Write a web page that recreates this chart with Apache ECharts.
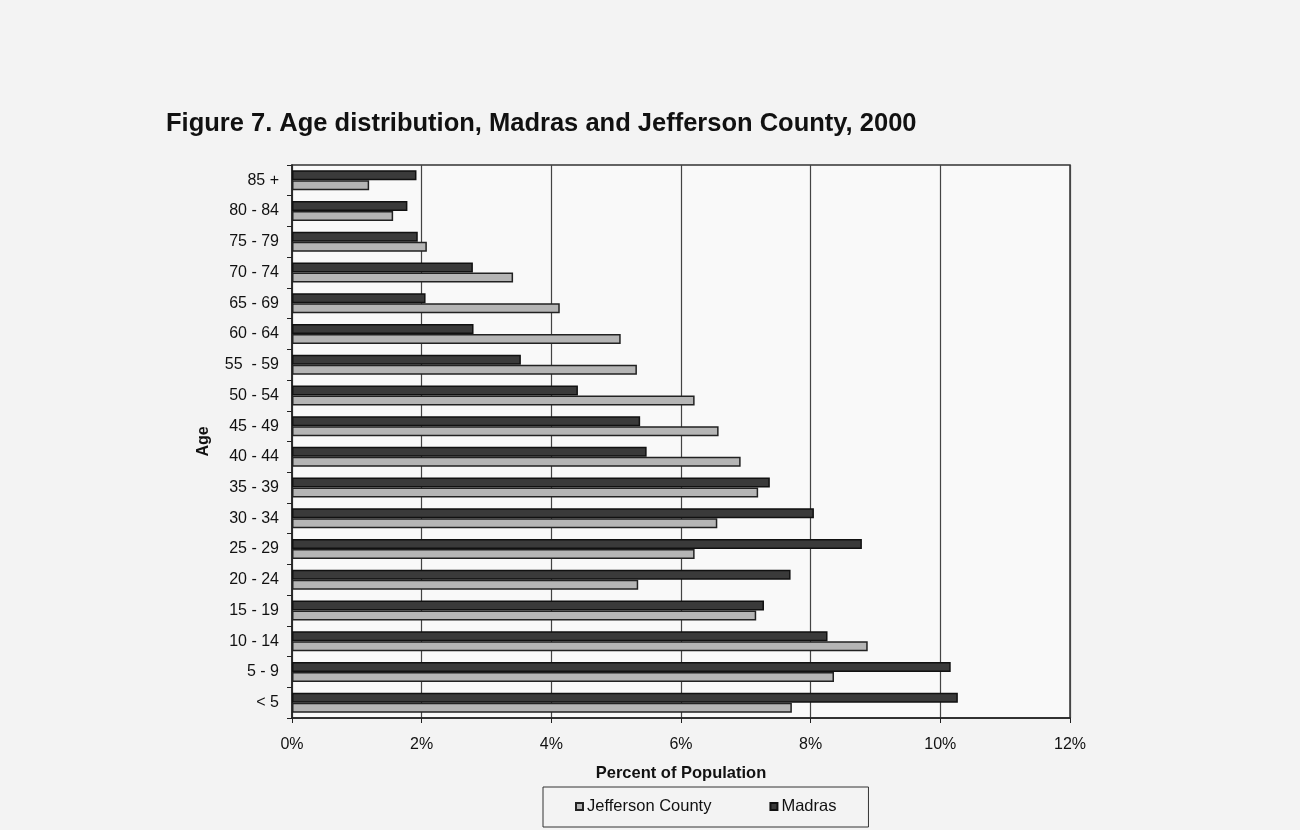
<!DOCTYPE html>
<html>
<head>
<meta charset="utf-8">
<script src="https://cdn.jsdelivr.net/npm/echarts@6/dist/echarts.min.js"></script>
<style>
html,body{margin:0;padding:0;background:#f3f3f3;}
#chart{width:1300px;height:830px;}
</style>
</head>
<body>
<div id="chart"></div>
<script>
const categories = ['< 5','5 - 9','10 - 14','15 - 19','20 - 24','25 - 29','30 - 34','35 - 39','40 - 44','45 - 49','50 - 54','55  - 59','60 - 64','65 - 69','70 - 74','75 - 79','80 - 84','85 +'];
const jefferson = [7.71, 8.36, 8.88, 7.16, 5.34, 6.21, 6.56, 7.19, 6.92, 6.58, 6.21, 5.32, 5.07, 4.13, 3.41, 2.08, 1.56, 1.19];
const madras = [10.27, 10.16, 8.26, 7.28, 7.69, 8.79, 8.05, 7.37, 5.47, 5.37, 4.41, 3.53, 2.80, 2.06, 2.79, 1.94, 1.78, 1.92];
const xTicks = [0, 2, 4, 6, 8, 10, 12];

const FONT = '"Liberation Sans", Arial, sans-serif';
const chart = echarts.init(document.getElementById('chart'));
chart.setOption({
  backgroundColor: '#f3f3f3',
  animation: false,
  title: {
    text: 'Figure 7. Age distribution, Madras and Jefferson County, 2000',
    left: 166, top: 111, padding: 0,
    textStyle: {fontFamily: FONT, fontSize: 25.5, fontWeight: 'bold', color: '#111'}
  },
  legend: {
    data: ['Jefferson County', 'Madras'],
    left: 543, top: 787,
    width: 340,
    padding: [11, 32, 12, 32],
    itemGap: 58,
    itemWidth: 7, itemHeight: 7,
    icon: 'rect',
    borderColor: '#333', borderWidth: 1,
    textStyle: {fontFamily: FONT, fontSize: 16.5, color: '#111', padding: [0, 0, 0, -1]}
  },
  grid: {
    left: 292, right: 230, top: 165, bottom: 112,
    show: true, borderColor: '#333', borderWidth: 1.5,
    backgroundColor: 'rgba(255,255,255,0.5)',
    containLabel: false
  },
  xAxis: {
    type: 'value', min: xTicks[0], max: xTicks[xTicks.length - 1], interval: 2,
    name: 'Percent of Population', nameLocation: 'middle', nameGap: 47,
    nameTextStyle: {fontFamily: FONT, fontSize: 16.5, fontWeight: 'bold', color: '#111'},
    axisLine: {show: true, lineStyle: {color: '#222', width: 1.5}},
    axisTick: {show: true, length: 5, lineStyle: {color: '#222'}},
    axisLabel: {formatter: '{value}%', fontFamily: FONT, fontSize: 16, color: '#111', margin: 19},
    splitLine: {show: true, lineStyle: {color: '#444', width: 1.2}}
  },
  yAxis: {
    type: 'category', data: categories,
    name: 'Age', nameLocation: 'middle', nameGap: 80, nameRotate: 90,
    nameTextStyle: {fontFamily: FONT, fontSize: 16, fontWeight: 'bold', color: '#111'},
    axisLine: {show: true, lineStyle: {color: '#222', width: 1.5}},
    axisTick: {show: true, length: 5, lineStyle: {color: '#222'}},
    axisLabel: {fontFamily: FONT, fontSize: 16, color: '#111', margin: 13},
    splitLine: {show: false}
  },
  series: [
    {
      name: 'Madras', type: 'bar', data: madras,
      barWidth: 10, barGap: '0%',
      itemStyle: {color: '#3a3a3a', borderColor: '#111', borderWidth: 1.5}
    },
    {
      name: 'Jefferson County', type: 'bar', data: jefferson,
      barWidth: 10, barGap: '0%',
      itemStyle: {color: '#b5b5b5', borderColor: '#222', borderWidth: 1.5}
    }
  ]
});
</script>
</body>
</html>
